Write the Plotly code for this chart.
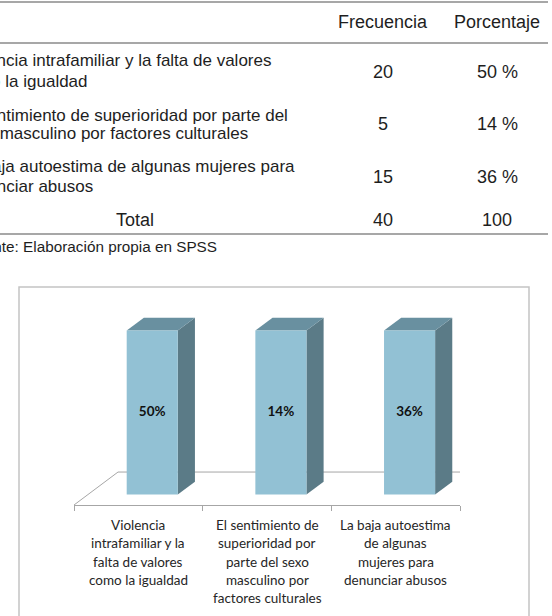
import plotly.graph_objects as go

# ---------------- data ----------------
table_header = ["Frecuencia", "Porcentaje"]
row_labels = [
    ["Violencia intrafamiliar y la falta de valores", "como la igualdad"],
    ["El sentimiento de superioridad por parte del", "sexo masculino por factores culturales"],
    ["La baja autoestima de algunas mujeres para", "denunciar abusos"],
]
frecuencia = [20, 5, 15]
porcentaje_txt = ["50 %", "14 %", "36 %"]
total_label = "Total"
total_frec = 40
total_pct = 100
source_note = "Fuente: Elaboración propia en SPSS"

categories = [
    "Violencia<br>intrafamiliar y la<br>falta de valores<br>como la igualdad",
    "El sentimiento de<br>superioridad por<br>parte del sexo<br>masculino por<br>factores culturales",
    "La baja autoestima<br>de algunas<br>mujeres para<br>denunciar abusos",
]
bar_labels = ["50%", "14%", "36%"]
bar_heights = [1, 1, 1]   # all columns drawn at equal height in the picture

# ---------------- geometry helpers ----------------
W, H = 552, 616
def px(x):
    return x / W
def py(y):
    return 1 - y / H

FRONT = "#92C1D4"
SIDE = "#5B7B87"
TOP = "#6990A0"
FLOOR = "#A6A6A6"

# 3-D projection (in axis units)
DEPTH_X = 0.342      # full floor depth, x units
DEPTH_Y = 0.201      # full floor depth, y units
BAR_Z0 = 0.316       # depth where bar front sits
BAR_DZ = 0.39        # bar depth fraction
BAR_W = 0.397

fig = go.Figure()

# floor (left, back, right edges)
fx = [-0.5, -0.5 + DEPTH_X, 2.5 + DEPTH_X, 2.5]
fy = [0, DEPTH_Y, DEPTH_Y, 0]
fig.add_trace(go.Scatter(x=fx, y=fy, mode="lines",
                         line=dict(color=FLOOR, width=1), hoverinfo="skip",
                         showlegend=False))

sx = BAR_Z0 * DEPTH_X
sy = BAR_Z0 * DEPTH_Y
ddx = BAR_DZ * DEPTH_X
ddy = BAR_DZ * DEPTH_Y
for i, h in enumerate(bar_heights):
    xl = i - BAR_W / 2 + sx
    xr = i + BAR_W / 2 + sx
    b = sy
    t = sy + h
    # side face
    fig.add_trace(go.Scatter(x=[xr, xr + ddx, xr + ddx, xr, xr],
                             y=[b, b + ddy, t + ddy, t, b],
                             fill="toself", fillcolor=SIDE, mode="lines",
                             line=dict(width=0, color=SIDE), hoverinfo="skip",
                             showlegend=False))
    # top face
    fig.add_trace(go.Scatter(x=[xl, xr, xr + ddx, xl + ddx, xl],
                             y=[t, t, t + ddy, t + ddy, t],
                             fill="toself", fillcolor=TOP, mode="lines",
                             line=dict(width=0, color=TOP), hoverinfo="skip",
                             showlegend=False))
    # front face
    fig.add_trace(go.Scatter(x=[xl, xr, xr, xl, xl],
                             y=[b, b, t, t, b],
                             fill="toself", fillcolor=FRONT, mode="lines",
                             line=dict(width=0, color=FRONT), hoverinfo="skip",
                             showlegend=False))
    # value label
    fig.add_trace(go.Scatter(x=[i + sx], y=[b + h / 2], mode="text",
                             text=["<b>" + bar_labels[i] + "</b>"],
                             textfont=dict(family="Lato, Open Sans, sans-serif",
                                           size=13.5, color="#111111"),
                             hoverinfo="skip", showlegend=False))

annotations = []
TFONT = dict(family="Liberation Sans, Arial, sans-serif", size=18, color="#1e1e1e")
RFONT = dict(family="Liberation Sans, Arial, sans-serif", size=17, color="#1e1e1e")

def ann(text, x, y, anchor="center", font=TFONT):
    annotations.append(dict(text=text, x=px(x), y=py(y), xref="paper", yref="paper",
                            xanchor=anchor, yanchor="middle", showarrow=False,
                            font=font))

# table header
ann(table_header[0], 383, 22)
ann(table_header[1], 497, 22)
row_y = [(61, 81, 72), (115, 133, 124), (167, 186, 177)]
for (l1, l2, ym), lab, f, p in zip(row_y, row_labels, frecuencia, porcentaje_txt):
    ann(lab[0], -43, l1, anchor="left", font=RFONT)
    ann(lab[1], -43, l2, anchor="left", font=RFONT)
    ann(str(f), 383, ym)
    ann(p, 497, ym)
ann(total_label, 135, 220)
ann(str(total_frec), 383, 220)
ann(str(total_pct), 497, 220)
ann(source_note, -35, 246, anchor="left",
    font=dict(family="Liberation Sans, Arial, sans-serif", size=15.3, color="#1e1e1e"))

# category labels under the chart
LFONT = dict(family="Lato, Open Sans, sans-serif", size=13.5, color="#262626")
for i, c in enumerate(categories):
    for k, line in enumerate(c.split("<br>")):
        annotations.append(dict(text=line, x=i, xref="x", y=py(525 + 18.3 * k),
                                yref="paper", xanchor="center", yanchor="middle",
                                showarrow=False, font=LFONT))

shapes = []
for ly in (2, 43, 234):
    shapes.append(dict(type="line", xref="paper", yref="paper",
                       x0=0, x1=px(548), y0=py(ly), y1=py(ly),
                       line=dict(color="#8a8a8a", width=1.5)))
# chart border
shapes.append(dict(type="rect", xref="paper", yref="paper",
                   x0=px(19), x1=px(529), y0=py(640), y1=py(287),
                   line=dict(color="#c4c4c4", width=1.5)))

fig.update_layout(
    width=W, height=H,
    margin=dict(l=0, r=0, t=0, b=0),
    paper_bgcolor="white", plot_bgcolor="rgba(0,0,0,0)",
    showlegend=False,
    xaxis=dict(domain=[px(74), px(460)], range=[-0.5, 2.5],
               showgrid=False, zeroline=False, showline=True,
               linecolor=FLOOR, linewidth=1,
               tickmode="array", tickvals=[-0.5, 0.5, 1.5, 2.5],
               ticks="outside", ticklen=5, tickcolor=FLOOR, tickwidth=1,
               showticklabels=False, fixedrange=True),
    yaxis=dict(domain=[py(505), py(287)], range=[0, 218 / 164],
               visible=False, fixedrange=True),
    annotations=annotations,
    shapes=shapes,
)

fig.write_html("out.html")
